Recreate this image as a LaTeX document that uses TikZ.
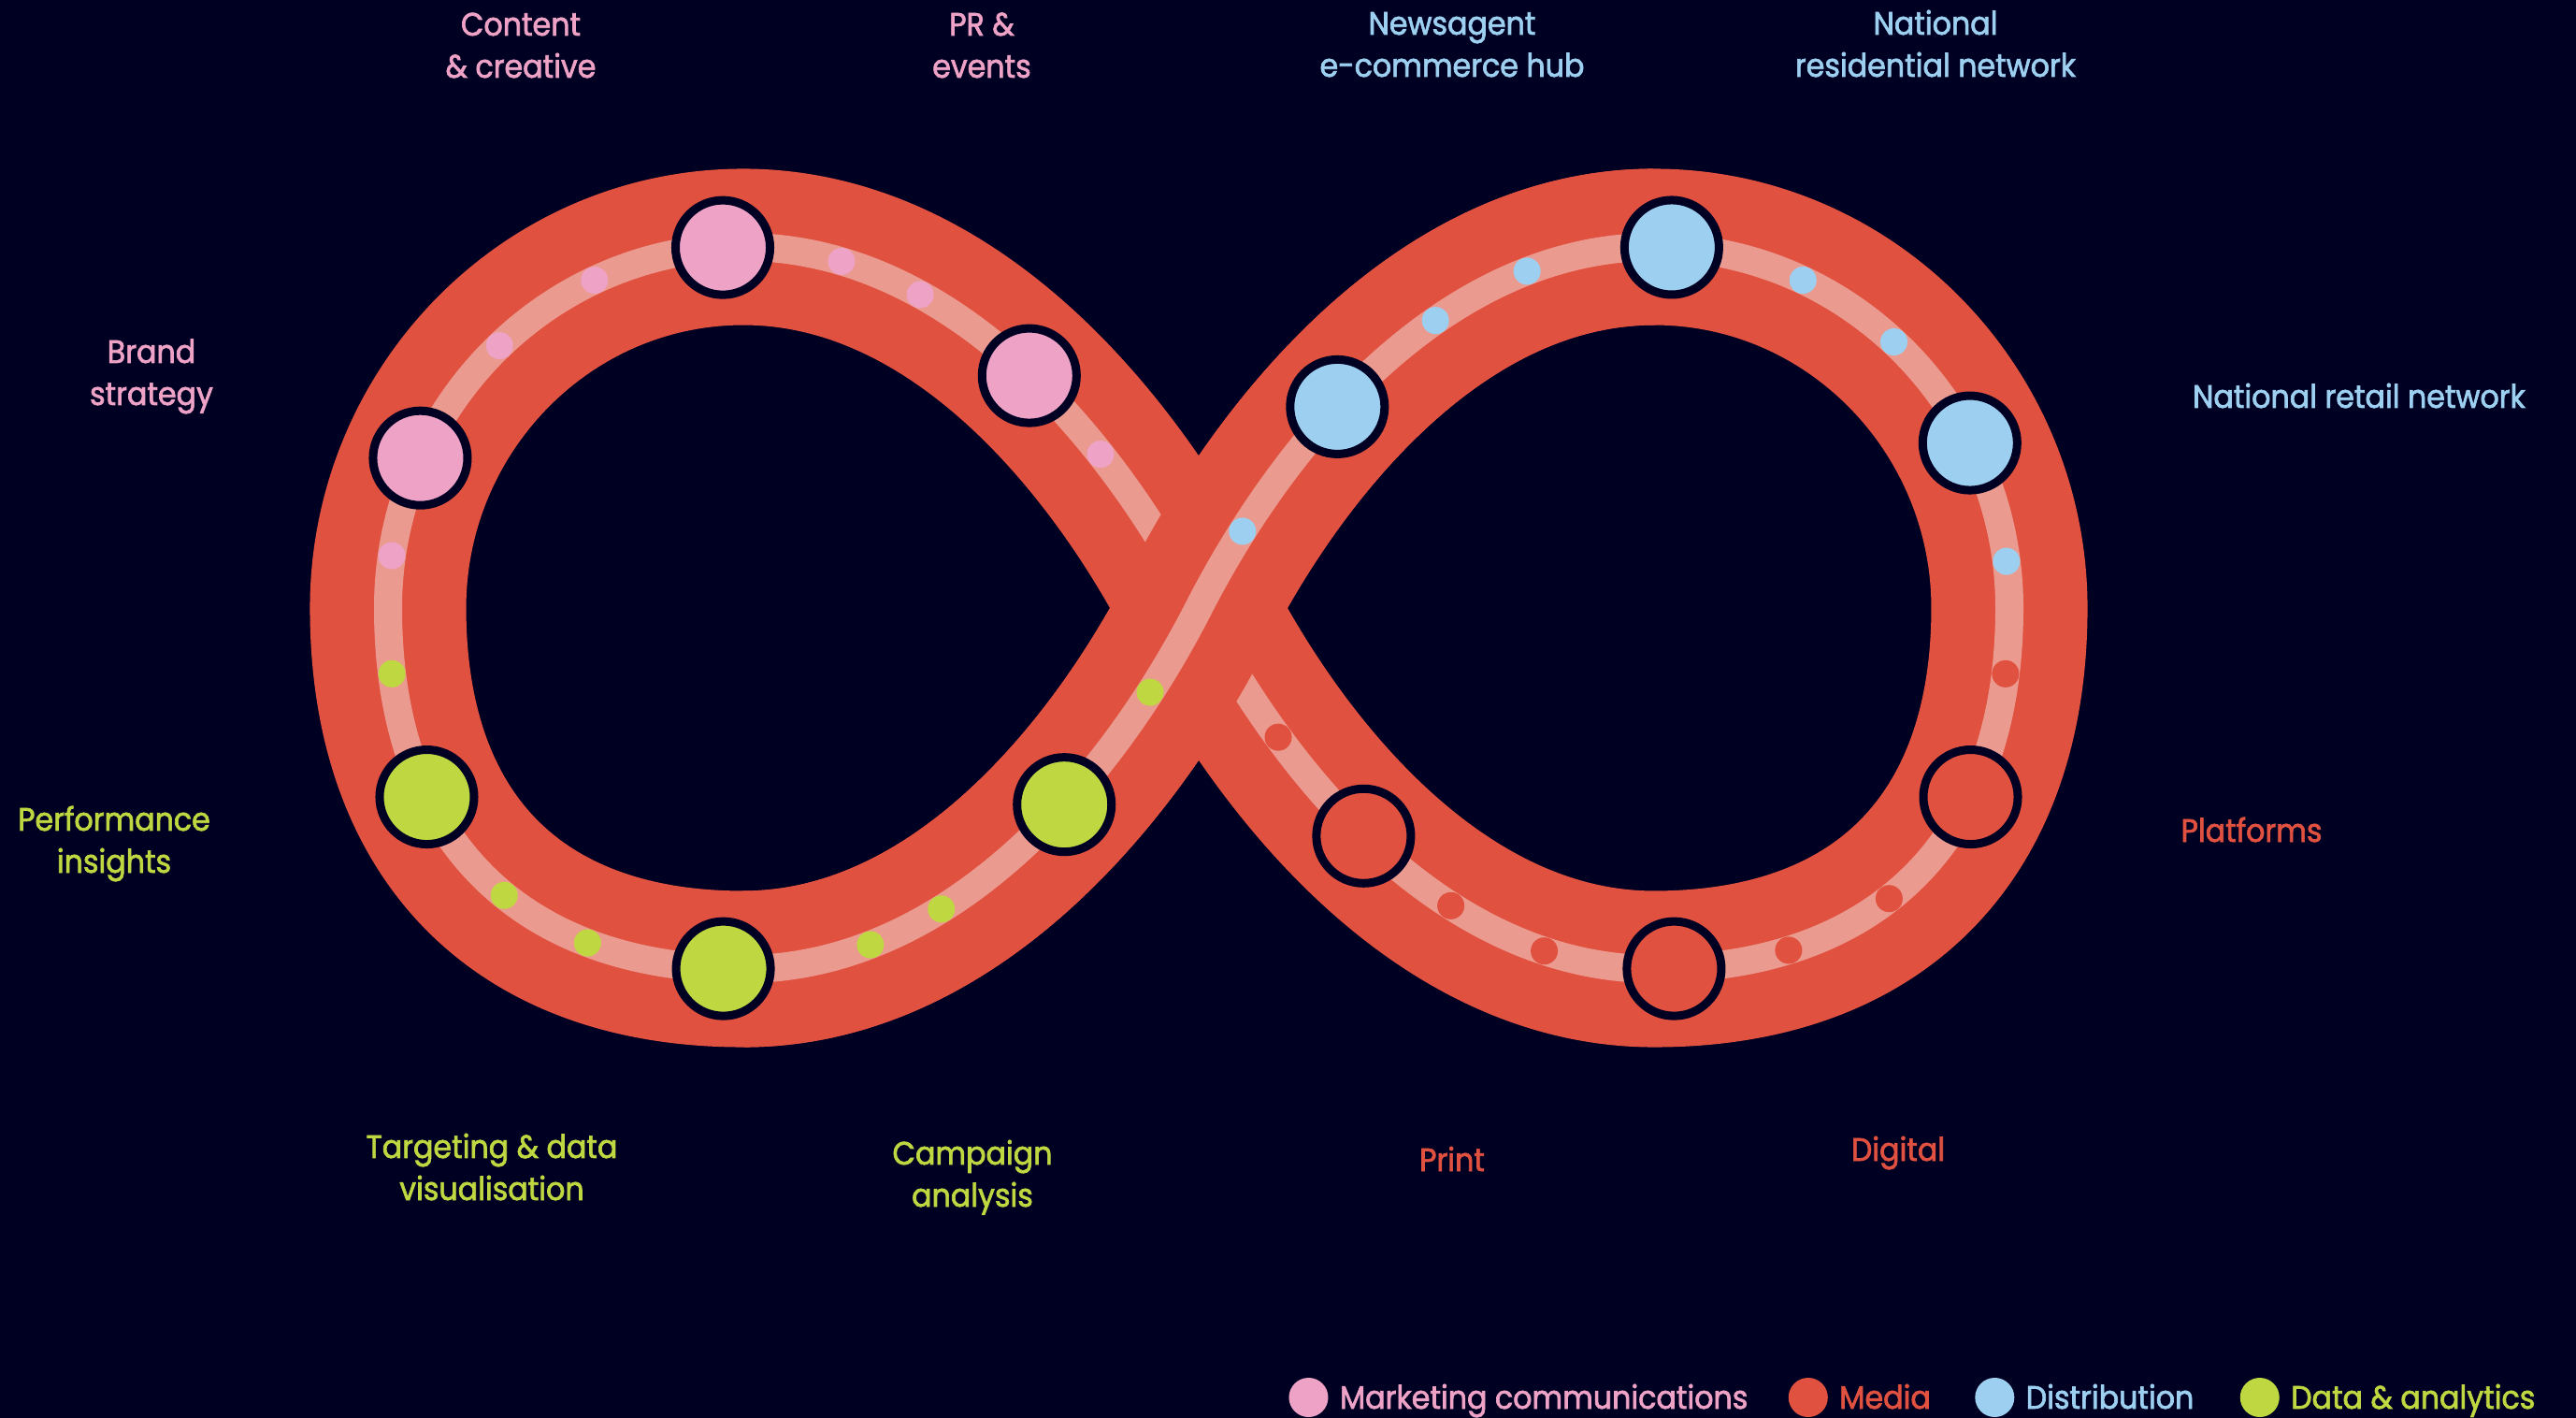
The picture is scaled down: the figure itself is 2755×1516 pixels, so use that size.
\documentclass[tikz,border=0pt]{standalone}
\usepackage{fontspec}
\setmainfont{Poppins}[FakeStretch=0.92, FakeBold=2]
\usetikzlibrary{positioning}

\definecolor{night}{RGB}{0,0,34}
\definecolor{media}{RGB}{224,81,64}
\definecolor{track}{RGB}{234,154,142}
\definecolor{mc}{RGB}{237,162,198}
\definecolor{dist}{RGB}{157,208,240}
\definecolor{data}{RGB}{191,215,64}

\begin{document}
\begin{tikzpicture}[
  x=0.01cm, y=-0.01cm,
  band/.style   = {draw=media, line width=1.67cm, postaction={draw=track, line width=0.30cm}},
  hub/.style    = {circle, inner sep=0pt, minimum size=1.01cm, draw=night, line width=0.09cm},
  dot/.style    = {circle, inner sep=0pt, minimum size=0.29cm},
  lbl/.style    = {font=\fontsize{9.8}{12.8}\selectfont, align=center, inner sep=0pt, anchor=base},
  key/.style    = {circle, inner sep=0pt, minimum size=0.42cm},
  keytxt/.style = {font=\fontsize{9.8}{12.8}\selectfont, inner sep=0pt, text height=0.24cm, text depth=0pt},
]
  \useasboundingbox (0,0) rectangle (2755,1516);
  \fill[night] (0,0) rectangle (2755,1516);

  % crossing point, apexes and sides of the two loops
  \coordinate (X)  at (1282,650);
  \coordinate (TR) at (1769,264);
  \coordinate (R)  at (2149,650);
  \coordinate (BR) at (1769,1036);
  \coordinate (TL) at (795,264);
  \coordinate (L)  at (415,650);
  \coordinate (BL) at (795,1036);

  % the whole figure eight, then the rising strand again on top
  \path[band] (X) .. controls (1370,478) and (1541,264) .. (TR)
    .. controls (1980,264) and (2149,439) .. (R)
    .. controls (2149,895) and (2010,1036) .. (BR)
    .. controls (1541,1036) and (1370,822) .. (X)
    .. controls (1194,478) and (1023,264) .. (TL)
    .. controls (584,264) and (415,439) .. (L)
    .. controls (415,895) and (554,1036) .. (BL)
    .. controls (1023,1036) and (1194,822) .. cycle;
  \path[band] (BL) .. controls (1023,1036) and (1194,822) .. (X)
    .. controls (1370,478) and (1541,264) .. (TR);

  % distribution
  \path (X) .. controls (1370,478) and (1541,264) .. (TR)
    node[hub, fill=dist, pos=0.41] (newsagent) {}
    foreach \t [count=\i] in {0.155,0.62,0.79} {node[dot, fill=dist, pos=\t] (dist-a\i) {}};
  \path (TR) .. controls (1980,264) and (2149,439) .. (R)
    node[hub, fill=dist, pos=0.03] (residential) {}
    node[hub, fill=dist, pos=0.70] (retail) {}
    foreach \t [count=\i] in {0.27,0.47,0.92} {node[dot, fill=dist, pos=\t] (dist-b\i) {}};

  % media
  \path (R) .. controls (2149,895) and (2010,1036) .. (BR)
    node[hub, fill=media, pos=0.32] (platforms) {}
    node[hub, fill=media, pos=0.97] (digital) {}
    foreach \t [count=\i] in {0.10,0.57,0.78} {node[dot, fill=media, pos=\t] (media-a\i) {}};
  \path (BR) .. controls (1541,1036) and (1370,822) .. (X)
    node[hub, fill=media, pos=0.53] (print) {}
    foreach \t [count=\i] in {0.18,0.35,0.74} {node[dot, fill=media, pos=\t] (media-b\i) {}};

  % marketing communications
  \path (X) .. controls (1194,478) and (1023,264) .. (TL)
    node[hub, fill=mc, pos=0.48] (pr) {}
    foreach \t [count=\i] in {0.31,0.70,0.84} {node[dot, fill=mc, pos=\t] (mc-a\i) {}};
  \path (TL) .. controls (584,264) and (415,439) .. (L)
    node[hub, fill=mc, pos=0.035] (content) {}
    node[hub, fill=mc, pos=0.73] (brand) {}
    foreach \t [count=\i] in {0.27,0.48,0.91} {node[dot, fill=mc, pos=\t] (mc-b\i) {}};

  % data & analytics
  \path (L) .. controls (415,895) and (554,1036) .. (BL)
    node[hub, fill=data, pos=0.32] (performance) {}
    node[hub, fill=data, pos=0.97] (targeting) {}
    foreach \t [count=\i] in {0.10,0.56,0.74} {node[dot, fill=data, pos=\t] (data-a\i) {}};
  \path (BL) .. controls (1023,1036) and (1194,822) .. (X)
    node[hub, fill=data, pos=0.60] (campaign) {}
    foreach \t [count=\i] in {0.21,0.34,0.83} {node[dot, fill=data, pos=\t] (data-b\i) {}};

  % labels (base = baseline of the last line)
  \node[lbl, text=mc]    (content-lbl)     at (557,83)   {Content\\\& creative};
  \node[lbl, text=mc]    (pr-lbl)          at (1050,83)  {PR \&\\events};
  \node[lbl, text=dist]  (newsagent-lbl)   at (1553,82)  {Newsagent\\e-commerce hub};
  \node[lbl, text=dist]  (residential-lbl) at (2070,82)  {National\\residential network};
  \node[lbl, text=mc]    (brand-lbl)       at (162,433)  {Brand\\strategy};
  \node[lbl, text=dist]  (retail-lbl)      at (2523,436) {National retail network};
  \node[lbl, text=data]  (performance-lbl) at (122,933)  {Performance\\insights};
  \node[lbl, text=media] (platforms-lbl)   at (2408,900) {Platforms};
  \node[lbl, text=data]  (targeting-lbl)   at (526,1283) {Targeting \& data\\visualisation};
  \node[lbl, text=data]  (campaign-lbl)    at (1040,1290) {Campaign\\analysis};
  \node[lbl, text=media] (print-lbl)       at (1553,1252) {Print};
  \node[lbl, text=media] (digital-lbl)     at (2030,1241) {Digital};

  % legend, laid out from its right end
  \node[keytxt, text=data, anchor=east] (data-txt) at (2712,1494) {Data \& analytics};
  \node[key, fill=data, left=0.11cm of data-txt] (data-key) {};
  \node[keytxt, text=dist, left=0.48cm of data-key] (dist-txt) {Distribution};
  \node[key, fill=dist, left=0.11cm of dist-txt] (dist-key) {};
  \node[keytxt, text=media, left=0.46cm of dist-key] (media-txt) {Media};
  \node[key, fill=media, left=0.11cm of media-txt] (media-key) {};
  \node[keytxt, text=mc, left=0.42cm of media-key] (mc-txt) {Marketing communications};
  \node[key, fill=mc, left=0.11cm of mc-txt] (mc-key) {};
\end{tikzpicture}
\end{document}
